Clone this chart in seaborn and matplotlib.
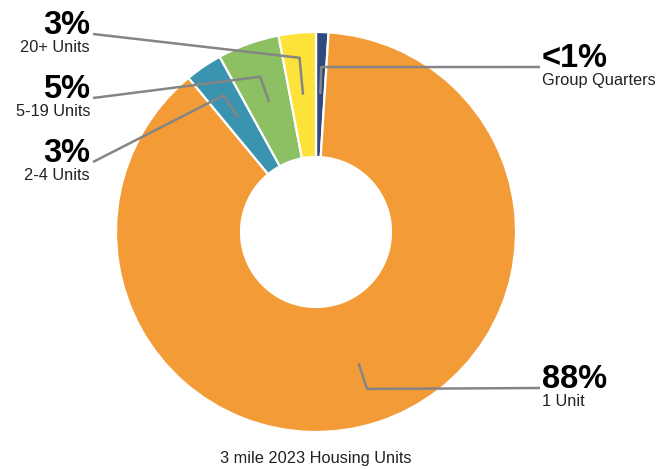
import numpy as np
import matplotlib
matplotlib.use("Agg")
import matplotlib.pyplot as plt
import seaborn as sns

# ---- data ----
categories = ["Group Quarters", "1 Unit", "2-4 Units", "5-19 Units", "20+ Units"]
values = [1, 88, 3, 5, 3]
pct_labels = ["<1%", "88%", "3%", "5%", "3%"]
colors = ["#2F4A7C", "#F39B37", "#3A93AF", "#8CC063", "#FDE23A"]
title = "3 mile 2023 Housing Units"

# ---- layout (pixel coords, y from top) ----
W, H = 659, 469
cx, cy = 316, 232
R_out, R_in = 200, 75
anchor_r = 138
elbow_r = [165, 165, 165, 165, 175]
label_pos = [(540, 67), (540, 388), (93, 162), (93, 98), (93, 34)]
label_side = ["right", "right", "left", "left", "left"]

sns.set_theme(style="white")
plt.rcParams["font.family"] = ["Liberation Sans", "DejaVu Sans"]

fig = plt.figure(figsize=(W / 100, H / 100), dpi=100)
ax = fig.add_axes([0, 0, 1, 1])


def Y(y):
    return H - y


ax.pie(values, colors=colors, startangle=90, counterclock=False,
       radius=R_out, center=(cx, Y(cy)),
       wedgeprops=dict(width=R_out - R_in, edgecolor="white", linewidth=1.6))

ax.set_xlim(0, W)
ax.set_ylim(0, H)
ax.set_aspect("equal")
ax.axis("off")

total = float(sum(values))
cum = 0.0
for i, v in enumerate(values):
    mid = np.deg2rad((cum + v / 2) / total * 360)
    cum += v
    ax_x = cx + anchor_r * np.sin(mid)
    ax_y = cy - anchor_r * np.cos(mid)
    el_x = cx + elbow_r[i] * np.sin(mid)
    el_y = cy - elbow_r[i] * np.cos(mid)
    lx, ly = label_pos[i]
    ax.plot([ax_x, el_x, lx], [Y(ax_y), Y(el_y), Y(ly)], color="#858585",
            lw=1.8, solid_capstyle="butt", zorder=5)
    if label_side[i] == "right":
        tx, ha = lx + 2, "left"
    else:
        tx, ha = lx - 3, "right"
    ax.text(tx, Y(ly), pct_labels[i], ha=ha, va="baseline", fontsize=23.5,
            fontweight="bold", color="black")
    ax.text(tx, Y(ly + 6), categories[i], ha=ha, va="top", fontsize=11.8,
            color="#222222")

ax.text(cx, Y(458), title, ha="center", va="center", fontsize=11.8,
        color="#222222")

fig.savefig("out.png", dpi=100, facecolor="white")
